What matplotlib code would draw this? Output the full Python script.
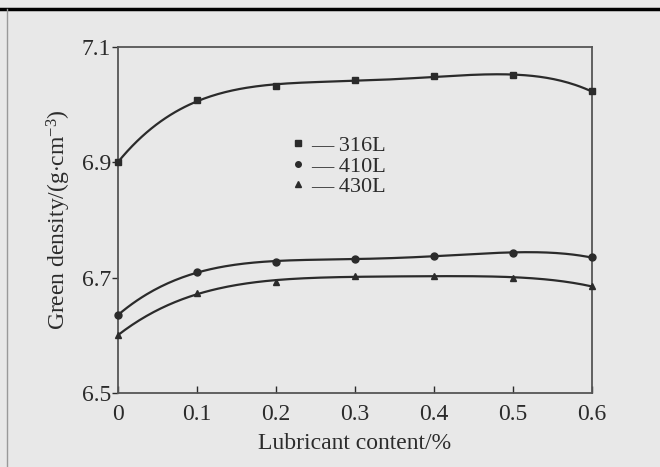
import numpy as np
import matplotlib
matplotlib.use("Agg")
import matplotlib.pyplot as plt
from matplotlib.lines import Line2D

x = [0, 0.1, 0.2, 0.3, 0.4, 0.5, 0.6]
d316 = [6.900, 7.008, 7.032, 7.043, 7.049, 7.051, 7.023]
d410 = [6.635, 6.710, 6.727, 6.733, 6.738, 6.743, 6.735]
d430 = [6.600, 6.673, 6.693, 6.703, 6.703, 6.700, 6.685]
labels = ["316L", "410L", "430L"]
xticks = [0, 0.1, 0.2, 0.3, 0.4, 0.5, 0.6]
yticks = [6.5, 6.7, 6.9, 7.1]

plt.rcParams['font.family'] = ['Liberation Serif', 'DejaVu Serif']
plt.rcParams['mathtext.fontset'] = 'custom'
plt.rcParams['mathtext.rm'] = 'Liberation Serif'
plt.rcParams['mathtext.it'] = 'Liberation Serif:italic'
bg = '#e8e8e8'
ink = '#2b2b2b'

fig = plt.figure(figsize=(6.6, 4.67), dpi=100, facecolor=bg)
ax = fig.add_axes([118/660, 1-393/467, (592-118)/660, (393-47)/467])
ax.set_facecolor(bg)

markers = ['s', 'o', '^']
xs = np.linspace(0, 0.6, 200)
for data, m in zip([d316, d410, d430], markers):
    c = np.polyfit(x, data, 4)
    ax.plot(xs, np.polyval(c, xs), color=ink, lw=1.6, zorder=2)
    ax.plot(x, data, ls='none', marker=m, color=ink, ms=5, zorder=3, clip_on=False)

ax.set_xlim(0, 0.6)
ax.set_ylim(6.5, 7.1)
ax.set_xticks(xticks)
ax.set_xticklabels(['0', '0.1', '0.2', '0.3', '0.4', '0.5', '0.6'])
ax.set_yticks(yticks)
ax.set_yticklabels(['6.5', '6.7', '6.9', '7.1'])
ax.tick_params(axis='x', direction='in', length=5, width=1, colors=ink, labelsize=17, pad=8)
ax.tick_params(axis='y', direction='out', length=4, width=1, colors=ink, labelsize=17, pad=1)
for s in ax.spines.values():
    s.set_color('#555555')
    s.set_linewidth(1.3)

ax.set_xlabel('Lubricant content/%', fontsize=17, color=ink, labelpad=6)
ax.set_ylabel('Green density/(g$\\cdot$cm$^{-3}$)', fontsize=17, color=ink, labelpad=6)

handles = [Line2D([], [], ls='none', marker=m, color=ink, ms=4) for m in markers]
leg = ax.legend(handles, ['\u2014 ' + l for l in labels], loc='upper left',
                bbox_to_anchor=(0.347, 0.77), frameon=False, fontsize=16,
                handlelength=0.6, handletextpad=0.3, labelspacing=0.0, borderaxespad=0)
for t in leg.get_texts():
    t.set_color(ink)

# frame lines of the scanned page
fig.add_artist(Line2D([0, 1], [1-9/467, 1-9/467], color='black', lw=2.5))
fig.add_artist(Line2D([7/660, 7/660], [0, 1-9/467], color='#999999', lw=1))

fig.savefig('out.png', dpi=100, facecolor=bg)
